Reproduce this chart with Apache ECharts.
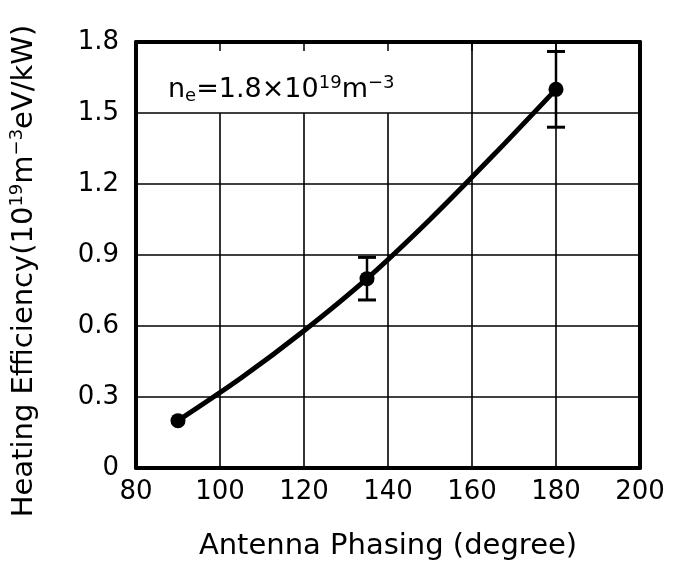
<!DOCTYPE html>
<html>
<head>
<meta charset="utf-8">
<script src="https://cdn.jsdelivr.net/npm/echarts@6/dist/echarts.min.js"></script>
<style>html,body{margin:0;padding:0;background:#fff}#c{width:680px;height:572px}</style>
</head>
<body>
<div id="c"></div>
<script>
// Measured points (antenna phasing in degrees, heating efficiency)
const phasing = [90, 135, 180];
const efficiency = [0.20, 0.80, 1.60];
const errLow = [null, 0.71, 1.44];
const errHigh = [null, 0.89, 1.76];
// Fitted curve
const curveX = [90, 105, 120, 135, 150, 165, 180];
const curveY = [0.20, 0.38, 0.58, 0.80, 1.05, 1.32, 1.60];
// Axis ticks
const xTicks = [80, 100, 120, 140, 160, 180, 200];
const yTicks = [0, 0.3, 0.6, 0.9, 1.2, 1.5, 1.8];
// Vertical grid lines: those left of the label box stop at 1.5
const vGridShort = [100, 120, 140];
const vGridFull = [160, 180];

const FONT = 'DejaVu Sans';
const chart = echarts.init(document.getElementById('c'));

const vLines = [];
vGridShort.forEach(x => vLines.push([{coord: [x, yTicks[0]]}, {coord: [x, yTicks[5]]}]));
vGridFull.forEach(x => vLines.push([{coord: [x, yTicks[0]]}, {coord: [x, yTicks[6]]}]));

const errData = [];
phasing.forEach((x, i) => { if (errLow[i] != null) errData.push([x, errLow[i], errHigh[i]]); });

chart.setOption({
  animation: false,
  backgroundColor: '#fff',
  grid: {left: 133, right: 40, top: 42, bottom: 104},
  xAxis: [{
    type: 'value', min: xTicks[0], max: xTicks[xTicks.length - 1], interval: 20,
    axisLine: {show: true, onZero: false, lineStyle: {color: '#000', width: 4}},
    axisTick: {show: false},
    splitLine: {show: false},
    axisLabel: {color: '#000', fontFamily: FONT, fontSize: 26, margin: 11},
    name: 'Antenna Phasing (degree)', nameLocation: 'middle', nameGap: 64,
    nameTextStyle: {color: '#000', fontFamily: FONT, fontSize: 29}
  }, {
    type: 'value', position: 'top', min: xTicks[0], max: xTicks[xTicks.length - 1], interval: 20,
    axisLine: {show: true, onZero: false, lineStyle: {color: '#000', width: 4}},
    axisTick: {show: true, inside: true, length: 9, lineStyle: {color: '#000', width: 1.5}},
    axisLabel: {show: false}, splitLine: {show: false}
  }],
  yAxis: [{
    type: 'value', min: yTicks[0], max: yTicks[yTicks.length - 1], interval: 0.3,
    axisLine: {show: true, onZero: false, lineStyle: {color: '#000', width: 4}},
    axisTick: {show: false},
    splitLine: {show: true, lineStyle: {color: '#000', width: 1.6}},
    axisLabel: {color: '#000', fontFamily: FONT, fontSize: 26, margin: 17,
      formatter: v => v === 0 ? '0' : v.toFixed(1)},
    name: '{t|Heating Efficiency(10}{s|19}{t|m}{s|−3}{t|eV/kW)}',
    nameLocation: 'middle', nameGap: 96, nameRotate: 90,
    nameTextStyle: {color: '#000', fontFamily: FONT, fontSize: 29, padding: [0, 32, 0, 0],
      rich: {
        t: {color: '#000', fontFamily: FONT, fontSize: 29},
        s: {color: '#000', fontFamily: FONT, fontSize: 18, padding: [0, 0, 14, 0]}
      }}
  }, {
    type: 'value', position: 'right', min: yTicks[0], max: yTicks[yTicks.length - 1], interval: 0.3,
    axisLine: {show: true, onZero: false, lineStyle: {color: '#000', width: 4}},
    axisTick: {show: false}, axisLabel: {show: false}, splitLine: {show: false}
  }],
  series: [{
    type: 'line', data: [], markLine: {
      silent: true, symbol: ['none', 'none'], label: {show: false},
      lineStyle: {color: '#000', width: 1.6, type: 'solid'},
      data: vLines
    }
  }, {
    type: 'line', data: curveX.map((x, i) => [x, curveY[i]]), smooth: 0.3,
    showSymbol: false, lineStyle: {color: '#000', width: 5}, z: 3
  }, {
    type: 'custom', z: 4,
    renderItem: (params, api) => {
      const x = api.value(0);
      const lo = api.coord([x, api.value(1)]);
      const hi = api.coord([x, api.value(2)]);
      const cw = 9;
      const st = {stroke: '#000', lineWidth: 2.5};
      return {type: 'group', children: [
        {type: 'line', shape: {x1: lo[0], y1: lo[1], x2: hi[0], y2: hi[1]}, style: st},
        {type: 'line', shape: {x1: lo[0] - cw, y1: lo[1], x2: lo[0] + cw, y2: lo[1]}, style: {stroke: '#000', lineWidth: 3}},
        {type: 'line', shape: {x1: hi[0] - cw, y1: hi[1], x2: hi[0] + cw, y2: hi[1]}, style: {stroke: '#000', lineWidth: 3}}
      ]};
    },
    data: errData
  }, {
    type: 'scatter', data: phasing.map((x, i) => [x, efficiency[i]]),
    symbol: 'circle', symbolSize: 15, itemStyle: {color: '#000', opacity: 1}, z: 5
  }],
  graphic: [{
    type: 'text', left: 168, top: 74, z: 10,
    style: {
      text: '{t|n}{b|e}{t|=1.8×10}{s|19}{t|m}{s|−3}',
      rich: {
        t: {fill: '#000', fontFamily: FONT, fontSize: 27},
        b: {fill: '#000', fontFamily: FONT, fontSize: 18, padding: [12, 0, 0, 0]},
        s: {fill: '#000', fontFamily: FONT, fontSize: 18, padding: [0, 0, 14, 0]}
      }
    }
  }]
});
</script>
</body>
</html>
